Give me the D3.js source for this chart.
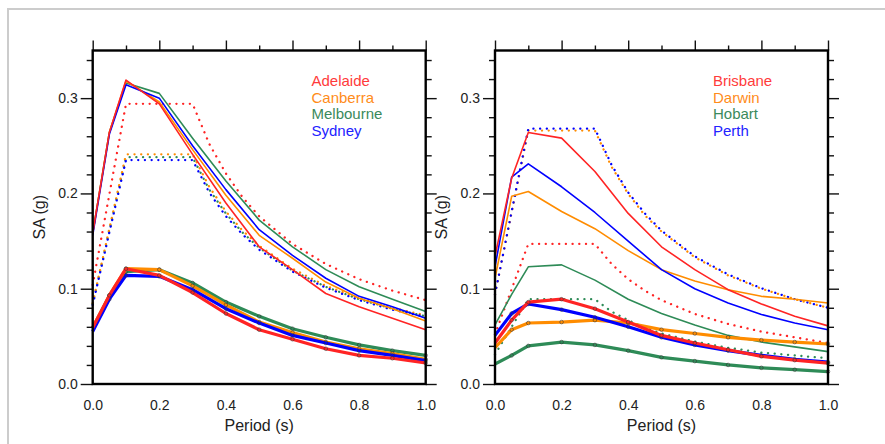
<!DOCTYPE html>
<html>
<head>
<meta charset="utf-8">
<script src="https://cdn.jsdelivr.net/npm/d3@7"></script>
<style>
  body { margin: 0; background: #fff; }
  svg { display: block; font-family: "Liberation Sans", Arial, Helvetica, sans-serif; }
</style>
</head>
<body>
<svg id="chart" width="885" height="444"></svg>
<script>
// periods (s)
const periods = [0, 0.05, 0.1, 0.2, 0.3, 0.4, 0.5, 0.6, 0.7, 0.8, 0.9, 1.0];
const codePeriods = [0, 0.1, 0.3, 0.35, 0.4, 0.45, 0.5, 0.6, 0.7, 0.8, 0.9, 1.0];

// left panel cities
const leftCities = ['Adelaide', 'Canberra', 'Melbourne', 'Sydney'];
const leftUpper = {
  Adelaide:  [0.158, 0.264, 0.319, 0.294, 0.241, 0.190, 0.144, 0.120, 0.095, 0.081, 0.069, 0.057],
  Canberra:  [0.158, 0.264, 0.318, 0.296, 0.246, 0.198, 0.156, 0.132, 0.107, 0.090, 0.079, 0.066],
  Melbourne: [0.158, 0.264, 0.316, 0.305, 0.258, 0.213, 0.172, 0.144, 0.120, 0.102, 0.089, 0.076],
  Sydney:    [0.156, 0.262, 0.314, 0.300, 0.250, 0.204, 0.162, 0.135, 0.111, 0.092, 0.081, 0.069]
};
const leftLower = {
  Adelaide:  [0.059, 0.093, 0.121, 0.114, 0.096, 0.074, 0.057, 0.047, 0.037, 0.030, 0.027, 0.022],
  Canberra:  [0.059, 0.093, 0.121, 0.120, 0.103, 0.083, 0.065, 0.054, 0.044, 0.037, 0.032, 0.026],
  Melbourne: [0.059, 0.092, 0.118, 0.120, 0.106, 0.086, 0.071, 0.058, 0.049, 0.041, 0.035, 0.030],
  Sydney:    [0.055, 0.089, 0.114, 0.113, 0.099, 0.079, 0.064, 0.051, 0.043, 0.035, 0.030, 0.0245]
};
const leftCode = {
  Adelaide:  [0.104, 0.294, 0.294, 0.252, 0.221, 0.196, 0.176, 0.147, 0.126, 0.110, 0.098, 0.088],
  Canberra:  [0.085, 0.241, 0.241, 0.207, 0.181, 0.161, 0.145, 0.121, 0.103, 0.090, 0.080, 0.072],
  Melbourne: [0.084, 0.238, 0.238, 0.204, 0.179, 0.159, 0.143, 0.119, 0.102, 0.089, 0.079, 0.071],
  Sydney:    [0.083, 0.235, 0.235, 0.201, 0.176, 0.157, 0.141, 0.118, 0.101, 0.088, 0.078, 0.0705]
};

// right panel cities
const rightCities = ['Brisbane', 'Darwin', 'Hobart', 'Perth'];
const rightUpper = {
  Brisbane: [0.134, 0.216, 0.264, 0.258, 0.223, 0.179, 0.144, 0.120, 0.099, 0.084, 0.071, 0.061],
  Darwin:   [0.111, 0.197, 0.202, 0.181, 0.163, 0.140, 0.120, 0.108, 0.099, 0.092, 0.089, 0.085],
  Hobart:   [0.062, 0.094, 0.123, 0.125, 0.109, 0.089, 0.074, 0.062, 0.051, 0.044, 0.039, 0.034],
  Perth:    [0.123, 0.217, 0.231, 0.207, 0.180, 0.150, 0.120, 0.100, 0.085, 0.073, 0.064, 0.057]
};
const rightLower = {
  Brisbane: [0.043, 0.067, 0.086, 0.089, 0.079, 0.065, 0.051, 0.043, 0.036, 0.029, 0.025, 0.022],
  Darwin:   [0.038, 0.057, 0.064, 0.065, 0.067, 0.064, 0.057, 0.053, 0.049, 0.046, 0.044, 0.042],
  Hobart:   [0.021, 0.030, 0.040, 0.044, 0.041, 0.035, 0.028, 0.024, 0.020, 0.017, 0.015, 0.013],
  Perth:    [0.051, 0.074, 0.084, 0.078, 0.070, 0.060, 0.049, 0.041, 0.035, 0.030, 0.026, 0.023]
};
const rightCode = {
  Brisbane: [0.052, 0.147, 0.147, 0.126, 0.110, 0.098, 0.088, 0.0735, 0.063, 0.055, 0.049, 0.043],
  Darwin:   [0.094, 0.266, 0.266, 0.228, 0.1995, 0.177, 0.160, 0.133, 0.114, 0.100, 0.089, 0.080],
  Hobart:   [0.031, 0.089, 0.089, 0.076, 0.067, 0.059, 0.053, 0.0445, 0.038, 0.033, 0.030, 0.027],
  Perth:    [0.094, 0.268, 0.268, 0.230, 0.201, 0.179, 0.161, 0.134, 0.115, 0.1005, 0.089, 0.080]
};

const xMajor = [0, 0.2, 0.4, 0.6, 0.8, 1.0];
const xMinor = [0.1, 0.3, 0.5, 0.7, 0.9];
const yMajor = [0, 0.1, 0.2, 0.3];
const yMinor = [0.02, 0.04, 0.06, 0.08, 0.12, 0.14, 0.16, 0.18, 0.22, 0.24, 0.26, 0.28, 0.32, 0.34];

const lineColors = ['#ff2424', '#ff8c00', '#2e8b57', '#0000ff'];
const textColors = ['#ff3b3b', '#ff8c1a', '#3a8a5c', '#2222ff'];

const svg = d3.select('#chart');

// outer light frame
svg.append('rect')
  .attr('x', 8).attr('y', 9)
  .attr('width', 1000).attr('height', 600)
  .attr('fill', 'none')
  .attr('stroke', '#cccccc')
  .attr('stroke-width', 2);

const y = d3.scaleLinear().domain([0, 0.35]).range([384, 50.5]);

function panel(x0, x1, cities, upper, lower, code, legendX, drawOrder) {
  const x = d3.scaleLinear().domain([0, 1]).range([x0, x1]);
  const g = svg.append('g');

  const line = d3.line().x(d => x(d[0])).y(d => y(d[1]));

  // code spectra (dotted)
  drawOrder.forEach(i => {
    const c = cities[i];
    g.append('path')
      .datum(codePeriods.map((p, k) => [p, code[c][k]]))
      .attr('d', line)
      .attr('fill', 'none')
      .attr('stroke', lineColors[i])
      .attr('stroke-width', 2.3)
      .attr('stroke-linecap', 'round')
      .attr('stroke-dasharray', '0.1,6.6');
  });

  // upper thin curves
  drawOrder.forEach(i => {
    const c = cities[i];
    g.append('path')
      .datum(periods.map((p, k) => [p, upper[c][k]]))
      .attr('d', line)
      .attr('fill', 'none')
      .attr('stroke', lineColors[i])
      .attr('stroke-width', 1.6)
      .attr('stroke-linejoin', 'round');
  });

  // lower thick curves with markers
  drawOrder.forEach(i => {
    const c = cities[i];
    const pts = periods.map((p, k) => [p, lower[c][k]]);
    g.append('path')
      .datum(pts)
      .attr('d', line)
      .attr('fill', 'none')
      .attr('stroke', lineColors[i])
      .attr('stroke-width', 3.2)
      .attr('stroke-linejoin', 'round');
    g.selectAll(null)
      .data(pts.slice(1))
      .join('circle')
      .attr('cx', d => x(d[0]))
      .attr('cy', d => y(d[1]))
      .attr('r', 1.8)
      .attr('fill', 'none')
      .attr('stroke', '#333')
      .attr('stroke-width', 0.7)
      .attr('opacity', 0.8);
  });

  // axes
  const tickStyle = sel => {
    sel.select('.domain').remove();
    sel.selectAll('line').attr('stroke', '#111').attr('stroke-width', 1.4);
  };

  g.append('g').attr('transform', `translate(${x0},0)`)
    .call(d3.axisLeft(y).tickValues(yMinor).tickSize(6).tickFormat(''))
    .call(tickStyle);
  g.append('g').attr('transform', `translate(${x0},0)`)
    .call(d3.axisLeft(y).tickValues(yMajor).tickSize(12).tickPadding(3).tickFormat(d3.format('.1f')))
    .call(tickStyle)
    .call(a => a.selectAll('text').attr('font-size', 14).attr('fill', '#222').attr('font-family', null));

  g.append('g').attr('transform', `translate(${x1},0)`)
    .call(d3.axisRight(y).tickValues(yMinor).tickSize(6).tickFormat(''))
    .call(tickStyle);
  g.append('g').attr('transform', `translate(${x1},0)`)
    .call(d3.axisRight(y).tickValues(yMajor).tickSize(11).tickFormat(''))
    .call(tickStyle);

  g.append('g').attr('transform', `translate(0,${y(0.35)})`)
    .call(d3.axisTop(x).tickValues(xMajor).tickSize(10).tickFormat(''))
    .call(tickStyle);
  g.append('g').attr('transform', `translate(0,${y(0.35)})`)
    .call(d3.axisTop(x).tickValues(xMinor).tickSize(5).tickFormat(''))
    .call(tickStyle);

  g.append('g').attr('transform', `translate(0,${y(0)})`)
    .call(d3.axisBottom(x).tickValues(xMajor).tickSize(0).tickPadding(16).tickFormat(d3.format('.1f')))
    .call(tickStyle)
    .call(a => a.selectAll('text').attr('font-size', 14).attr('fill', '#222').attr('font-family', null));

  // frame
  g.append('rect')
    .attr('x', x0).attr('y', y(0.35))
    .attr('width', x1 - x0).attr('height', y(0) - y(0.35))
    .attr('fill', 'none')
    .attr('stroke', '#000')
    .attr('stroke-width', 2.4);

  // axis titles
  g.append('text')
    .attr('x', (x0 + x1) / 2).attr('y', 431)
    .attr('text-anchor', 'middle')
    .attr('font-size', 16).attr('fill', '#222')
    .text('Period (s)');
  g.append('text')
    .attr('transform', `translate(${x0 - 48},${(y(0) + y(0.35)) / 2}) rotate(-90)`)
    .attr('text-anchor', 'middle')
    .attr('font-size', 16).attr('fill', '#222')
    .text('SA (g)');

  // legend
  cities.forEach((c, i) => {
    g.append('text')
      .attr('x', legendX).attr('y', 86 + i * 16.5)
      .attr('font-size', 15)
      .attr('fill', textColors[i])
      .text(c);
  });
}

panel(92.7, 425.7, leftCities, leftUpper, leftLower, leftCode, 311.5, [2, 1, 3, 0]);
panel(495, 828, rightCities, rightUpper, rightLower, rightCode, 713, [2, 1, 3, 0]);
</script>
</body>
</html>
